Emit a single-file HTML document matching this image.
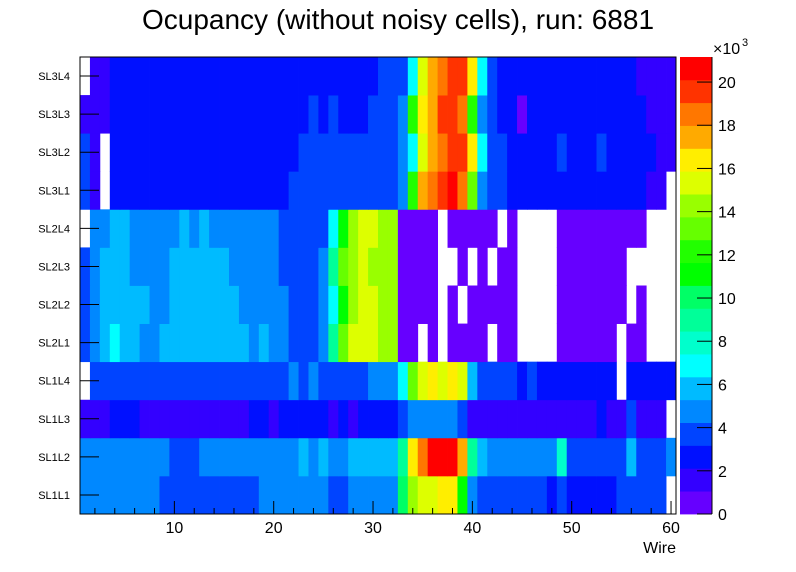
<!DOCTYPE html>
<html><head><meta charset="utf-8"><style>
html,body{margin:0;padding:0;background:#fff;}
svg{display:block;font-family:"Liberation Sans",sans-serif;}
</style></head><body>
<svg id="chart" width="796" height="572" viewBox="0 0 796 572" xmlns="http://www.w3.org/2000/svg">
<rect width="796" height="572" fill="#fff"/>
<text x="398" y="29" text-anchor="middle" font-size="28" fill="#000">Ocupancy (without noisy cells), run: 6881</text>
<g id="cells"></g>
<g id="axes"></g>
<g id="cbar"></g>
</svg>
<script>
const layers = ["SL1L1","SL1L2","SL1L3","SL1L4","SL2L1","SL2L2","SL2L3","SL2L4","SL3L1","SL3L2","SL3L3","SL3L4"];
const xTicks = [10,20,30,40,50,60];
const zTicks = [0,2,4,6,8,10,12,14,16,18,20];
const zMax = 21.16;
const paletteColors = ["#6600ff","#3300ff","#0010ff","#0044ff","#0088ff","#00bbff","#00ffff","#00ffcc","#00ff99","#00ff66","#00ff00","#22ff00","#66ff00","#99ff00","#ddff00","#ffee00","#ffaa00","#ff7700","#ff3300","#ff0000"];
// values in thousands, wire 1..60, null = empty
const SL1L1 = [4.8,4.8,4.8,4.8,4.8,4.8,4.8,4.8,3.7,3.7, 3.7,3.7,3.7,3.7,3.7,3.7,3.7,3.7,4.8,4.8, 4.8,4.8,4.8,4.8,4.8,3.7,3.7,4.8,4.8,4.8, 4.8,4.8,10.1,14.3,15.3,15.3,16.4,16.4,11.1,4.8, 3.7,3.7,3.7,3.7,3.7,3.7,3.7,2.6,3.7,2.6, 2.6,2.6,2.6,2.6,3.7,3.7,3.7,3.7,3.7,null];
const SL1L2 = [4.8,4.8,4.8,4.8,4.8,4.8,4.8,4.8,4.8,3.7, 3.7,3.7,4.8,4.8,4.8,4.8,4.8,4.8,4.8,4.8, 4.8,4.8,5.8,4.8,5.8,4.8,4.8,5.8,5.8,5.8, 5.8,5.8,9.0,16.4,18.5,20.6,20.6,20.6,17.5,9.0, 5.8,4.8,4.8,4.8,4.8,4.8,4.8,4.8,7.9,3.7, 3.7,3.7,3.7,3.7,3.7,5.8,3.7,3.7,3.7,4.8];
const SL1L3 = [1.6,1.6,1.6,2.6,2.6,2.6,1.6,1.6,1.6,1.6, 1.6,1.6,1.6,1.6,1.6,1.6,1.6,2.6,2.6,1.6, 2.6,2.6,2.6,2.6,2.6,1.6,2.6,1.6,2.6,2.6, 2.6,2.6,3.7,4.8,4.8,4.8,4.8,4.8,3.7,1.6, 1.6,1.6,1.6,1.6,1.6,1.6,1.6,1.6,1.6,1.6, 1.6,1.6,2.6,1.6,1.6,3.7,1.6,1.6,1.6,null];
const SL1L4 = [null,3.7,3.7,3.7,3.7,3.7,3.7,3.7,3.7,3.7, 3.7,3.7,3.7,3.7,3.7,3.7,3.7,3.7,3.7,3.7, 3.7,4.8,3.7,4.8,3.7,3.7,3.7,3.7,3.7,4.8, 4.8,4.8,6.9,13.2,15.3,16.4,15.3,16.4,15.3,5.8, 3.7,3.7,3.7,3.7,2.6,3.7,2.6,2.6,2.6,2.6, 2.6,2.6,2.6,2.6,null,2.6,2.6,2.6,2.6,2.6];
const SL2L1 = [3.7,4.8,5.8,6.9,5.8,5.8,4.8,4.8,5.8,5.8, 5.8,5.8,5.8,5.8,5.8,5.8,5.8,4.8,5.8,4.8, 4.8,3.7,3.7,3.7,4.8,9.0,13.2,15.3,15.3,15.3, 14.3,14.3,0.5,0.5,null,0.5,null,0.5,0.5,0.5, 0.5,null,0.5,0.5,null,null,null,null,0.5,0.5, 0.5,0.5,0.5,0.5,null,0.5,0.5,null,null,null];
const SL2L2 = [3.7,4.8,5.8,5.8,5.8,5.8,5.8,4.8,4.8,5.8, 5.8,5.8,5.8,5.8,5.8,5.8,4.8,4.8,4.8,4.8, 4.8,3.7,3.7,3.7,4.8,6.9,11.1,14.3,15.3,15.3, 14.3,14.3,0.5,0.5,0.5,0.5,null,0.5,null,0.5, 0.5,0.5,0.5,0.5,null,null,null,null,0.5,0.5, 0.5,0.5,0.5,0.5,0.5,null,0.5,null,null,null];
const SL2L3 = [3.7,4.8,5.8,5.8,5.8,4.8,4.8,4.8,4.8,5.8, 5.8,5.8,5.8,5.8,5.8,4.8,4.8,4.8,4.8,4.8, 3.7,3.7,3.7,3.7,4.8,9.0,13.2,14.3,15.3,14.3, 14.3,14.3,0.5,0.5,0.5,0.5,null,null,0.5,null, 0.5,null,0.5,0.5,null,null,null,null,0.5,0.5, 0.5,0.5,0.5,0.5,0.5,null,null,null,null,null];
const SL2L4 = [null,4.8,4.8,5.8,5.8,4.8,4.8,4.8,4.8,4.8, 5.8,4.8,5.8,4.8,4.8,4.8,4.8,4.8,4.8,4.8, 3.7,3.7,3.7,3.7,3.7,6.9,11.1,14.3,15.3,15.3, 14.3,14.3,0.5,0.5,0.5,0.5,null,0.5,0.5,0.5, 0.5,0.5,null,0.5,null,null,null,null,0.5,0.5, 0.5,0.5,0.5,0.5,0.5,0.5,0.5,null,null,null];
const SL3L1 = [3.7,1.6,null,2.6,2.6,2.6,2.6,2.6,2.6,2.6, 2.6,2.6,2.6,2.6,2.6,2.6,2.6,2.6,2.6,2.6, 2.6,3.7,3.7,3.7,3.7,3.7,3.7,3.7,3.7,3.7, 3.7,3.7,4.8,12.2,17.5,18.5,19.6,20.6,18.5,13.2, 4.8,3.7,3.7,2.6,2.6,2.6,2.6,2.6,2.6,2.6, 2.6,2.6,2.6,2.6,2.6,2.6,2.6,1.6,1.6,null];
const SL3L2 = [3.7,1.6,null,2.6,2.6,2.6,2.6,2.6,2.6,2.6, 2.6,2.6,2.6,2.6,2.6,2.6,2.6,2.6,2.6,2.6, 2.6,2.6,3.7,3.7,3.7,3.7,3.7,3.7,3.7,3.7, 3.7,3.7,4.8,6.9,15.3,17.5,18.5,19.6,19.6,16.4, 6.9,3.7,3.7,2.6,2.6,2.6,2.6,2.6,3.7,2.6, 2.6,2.6,3.7,2.6,2.6,2.6,2.6,2.6,1.6,1.6];
const SL3L3 = [1.6,1.6,1.6,2.6,2.6,2.6,2.6,2.6,2.6,2.6, 2.6,2.6,2.6,2.6,2.6,2.6,2.6,2.6,2.6,2.6, 2.6,2.6,2.6,3.7,2.6,3.7,2.6,2.6,2.6,3.7, 3.7,3.7,4.8,12.2,16.4,17.5,19.6,19.6,18.5,12.2, 4.8,3.7,2.6,2.6,0.5,2.6,2.6,2.6,2.6,2.6, 2.6,2.6,2.6,2.6,2.6,2.6,2.6,1.6,1.6,1.6];
const SL3L4 = [null,1.6,1.6,2.6,2.6,2.6,2.6,2.6,2.6,2.6, 2.6,2.6,2.6,2.6,2.6,2.6,2.6,2.6,2.6,2.6, 2.6,2.6,2.6,2.6,2.6,2.6,2.6,2.6,2.6,2.6, 3.7,3.7,3.7,6.9,15.3,17.5,18.5,19.6,19.6,16.4, 6.9,3.7,2.6,2.6,2.6,2.6,2.6,2.6,2.6,2.6, 2.6,2.6,2.6,2.6,2.6,2.6,1.6,1.6,1.6,1.6];
const rows = [SL1L1,SL1L2,SL1L3,SL1L4,SL2L1,SL2L2,SL2L3,SL2L4,SL3L1,SL3L2,SL3L3,SL3L4];

const NS="http://www.w3.org/2000/svg";
const L=80,R=676,T=57,B=514;
const xMin=0.5,xMax=60.5;
function xs(w){return L+(w-xMin)/(xMax-xMin)*(R-L);}
function ys(i){return B-i*(B-T)/layers.length;}
function zy(z){return B-z/zMax*(B-T);}
function color(v){let k=Math.floor(v/zMax*paletteColors.length);if(k<0)k=0;if(k>=paletteColors.length)k=paletteColors.length-1;return paletteColors[k];}
function mk(tag,attrs,parent){const e=document.createElementNS(NS,tag);for(const k in attrs)e.setAttribute(k,attrs[k]);parent.appendChild(e);return e;}

const cells=document.getElementById('cells');
rows.forEach((row,i)=>{
  row.forEach((v,j)=>{
    if(v===null)return;
    const w=j+1;
    const x0=xs(w-0.5),x1=xs(w+0.5),y0=ys(i+1),y1=ys(i);
    const r=mk('rect',{x:x0,y:y0,width:x1-x0+0.4,height:y1-y0+0.4,fill:color(v)},cells);
    
    
  });
});

const ax=document.getElementById('axes');
const frame=mk('rect',{x:L,y:T,width:R-L,height:B-T,fill:'none',stroke:'#000','stroke-width':1},ax);


layers.forEach((name,i)=>{
  const yc=(ys(i)+ys(i+1))/2;
  const t=mk('line',{x1:L,x2:L+19,y1:yc,y2:yc,stroke:'#000','stroke-width':1},ax);
  
  
  const lb=mk('text',{x:70,y:yc+4,'text-anchor':'end','font-size':11,fill:'#000'},ax);
  lb.textContent=name;
  
  
});
for(let w=2;w<=60;w+=2){
  const major=xTicks.indexOf(w)>=0;
  const t=mk('line',{x1:xs(w),x2:xs(w),y1:B,y2:B-(major?13:6),stroke:'#000','stroke-width':1},ax);
  
  
}
xTicks.forEach(v=>{
  const lb=mk('text',{x:xs(v),y:533,'text-anchor':'middle','font-size':16,fill:'#000'},ax);
  lb.textContent=v;
  
  
});
const xt=mk('text',{x:676,y:553,'text-anchor':'end','font-size':16,fill:'#000'},ax);
xt.textContent='Wire';



const cb=document.getElementById('cbar');
const CL=680,CR=712;
paletteColors.forEach((c,k)=>{
  const z0=k*zMax/paletteColors.length,z1=(k+1)*zMax/paletteColors.length;
  const r=mk('rect',{x:CL,y:zy(z1),width:CR-CL,height:zy(z0)-zy(z1)+0.4,fill:c},cb);
  
  
});
const ca=mk('line',{x1:CR,x2:CR,y1:T,y2:B,stroke:'#000','stroke-width':1},cb);


zTicks.forEach(z=>{
  const t=mk('line',{x1:CR-15,x2:CR,y1:zy(z),y2:zy(z),stroke:'#000','stroke-width':1},cb);
  
  
  const lb=mk('text',{x:718,y:zy(z)+6,'font-size':16,fill:'#000'},cb);
  lb.textContent=z;
  
  
});
const ex=mk('text',{x:713,y:54,'font-size':16,fill:'#000'},cb);
ex.textContent='×10';


const ex3=mk('text',{x:742,y:46,'font-size':11,fill:'#000'},cb);
ex3.textContent='3';


</script>
</body></html>
